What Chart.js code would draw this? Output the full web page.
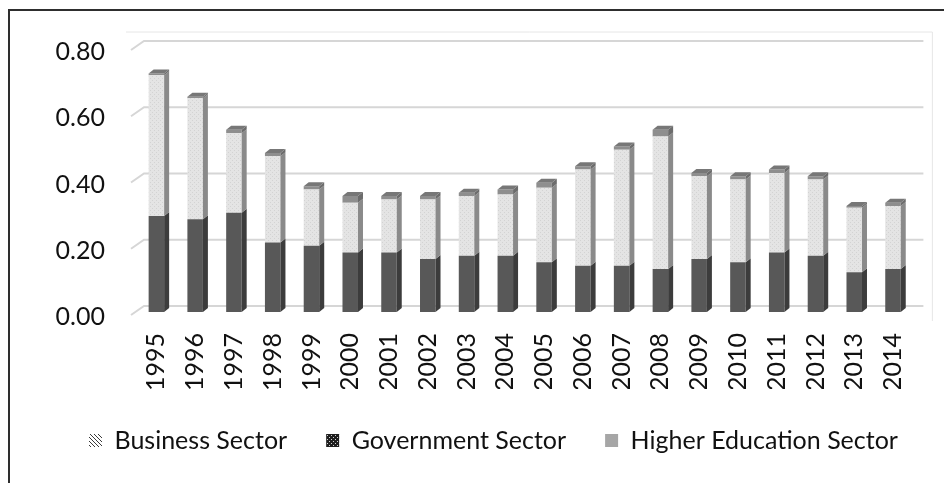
<!DOCTYPE html>
<html>
<head>
<meta charset="utf-8">
<script src="https://cdn.jsdelivr.net/npm/chart.js@4/dist/chart.umd.min.js"></script>
<style>
  html, body { margin: 0; padding: 0; background: #fff; }
  #wrap { position: relative; width: 944px; height: 483px; overflow: hidden; }
  #frame { position: absolute; left: 8px; top: 9px; width: 1000px; height: 600px; border: 2px solid #2e2e2e; }
  #rdChart { position: absolute; left: 0; top: 0; }
</style>
</head>
<body>
<div id="wrap">
  <div id="frame"></div>
  <canvas id="rdChart" width="944" height="483"></canvas>
</div>
<script>
// R&D expenditure by sector, 1995-2014
const years = ["1995", "1996", "1997", "1998", "1999", "2000", "2001", "2002", "2003", "2004",
  "2005", "2006", "2007", "2008", "2009", "2010", "2011", "2012", "2013", "2014"];
const businessSector = [0.29, 0.28, 0.30, 0.21, 0.20, 0.18, 0.18, 0.16, 0.17, 0.17,
  0.15, 0.14, 0.14, 0.13, 0.16, 0.15, 0.18, 0.17, 0.12, 0.13];
const governmentSector = [0.425, 0.365, 0.24, 0.26, 0.17, 0.15, 0.16, 0.18, 0.18, 0.185,
  0.225, 0.29, 0.35, 0.40, 0.25, 0.25, 0.24, 0.23, 0.195, 0.19];
const higherEducationSector = [0.005, 0.005, 0.01, 0.01, 0.01, 0.02, 0.01, 0.01, 0.01, 0.015,
  0.015, 0.01, 0.01, 0.02, 0.01, 0.01, 0.01, 0.01, 0.005, 0.01];
const yTicks = [0, 0.2, 0.4, 0.6, 0.8];

// small tiles used as fills
function makePattern(size, draw) {
  const c = document.createElement("canvas");
  c.width = size; c.height = size;
  draw(c.getContext("2d"));
  return document.createElement("canvas").getContext("2d").createPattern(c, "repeat");
}

const dottedLight = makePattern(4, g => {
  g.fillStyle = "#e4e4e4"; g.fillRect(0, 0, 4, 4);
  g.fillStyle = "#d3d3d3"; g.fillRect(0, 0, 1, 1); g.fillRect(2, 2, 1, 1);
});
const hatch = makePattern(4, g => {
  g.fillStyle = "#ffffff"; g.fillRect(0, 0, 4, 4);
  g.fillStyle = "#3a3a3a";
  for (let i = 0; i < 4; i++) g.fillRect(i, i, 1, 1);
});
const checker = makePattern(4, g => {
  g.fillStyle = "#1e1e1e"; g.fillRect(0, 0, 4, 4);
  g.fillStyle = "#cfcfcf"; g.fillRect(1, 1, 1, 1); g.fillRect(3, 3, 1, 1);
});

const legendFills = [hatch, checker, "#a6a6a6"];
const sideColors = ["#3c3c3c", "#8a8a8a", "#6c6c6c"];
const topColor = "#777777";

const DX = 5, DY = 4;          // bar depth
const WALL_DX = 7, WALL_DY = 6; // back wall offset

// back wall, gridlines, floor lines and the bar sides/tops
const wallPlugin = {
  id: "wall",
  afterLayout(chart) {
    // legend row starts a little right of the y axis
    if (chart.legend) chart.legend.left = 50;
  },
  beforeDatasetsDraw(chart) {
    const { ctx, chartArea: a, scales: { y } } = chart;
    ctx.save();
    ctx.strokeStyle = "#e6e6e6";
    ctx.lineWidth = 1;
    ctx.beginPath();
    ctx.moveTo(a.left - 11, y.getPixelForValue(0.8) - 15);
    ctx.lineTo(a.right + 20, y.getPixelForValue(0.8) - 15);
    ctx.lineTo(a.right + 20, y.getPixelForValue(0) + 9);
    ctx.stroke();

    ctx.strokeStyle = "#d6d6d6";
    ctx.lineWidth = 2;
    yTicks.forEach(v => {
      const py = y.getPixelForValue(v);
      ctx.beginPath();
      ctx.moveTo(a.left - 6, py + 3);
      ctx.lineTo(a.left + WALL_DX, py - WALL_DY);
      ctx.lineTo(a.right + 11, py - WALL_DY);
      ctx.stroke();
    });
    ctx.restore();
  },
  afterDatasetsDraw(chart) {
    const { ctx } = chart;
    const metas = chart.getSortedVisibleDatasetMetas();
    ctx.save();
    metas.forEach((meta, di) => {
      meta.data.forEach(bar => {
        const { x, y, base, width } = bar.getProps(["x", "y", "base", "width"], true);
        const r = x + width / 2, l = x - width / 2;
        ctx.fillStyle = sideColors[di];
        ctx.beginPath();
        ctx.moveTo(r, y);
        ctx.lineTo(r + DX, y - DY);
        ctx.lineTo(r + DX, base - DY);
        ctx.lineTo(r, base);
        ctx.closePath();
        ctx.fill();
        if (di === metas.length - 1) {
          ctx.fillStyle = topColor;
          ctx.beginPath();
          ctx.moveTo(l, y);
          ctx.lineTo(l + DX, y - DY);
          ctx.lineTo(r + DX, y - DY);
          ctx.lineTo(r, y);
          ctx.closePath();
          ctx.fill();
        }
      });
    });
    ctx.restore();
  }
};

const font = { family: "Lato, 'Open Sans', sans-serif", size: 25 };

new Chart(document.getElementById("rdChart"), {
  type: "bar",
  data: {
    labels: years,
    datasets: [
      { label: "Business Sector", data: businessSector, backgroundColor: "#585858" },
      { label: "Government Sector", data: governmentSector, backgroundColor: dottedLight },
      { label: "Higher Education Sector", data: higherEducationSector, backgroundColor: "#8e8e8e" }
    ]
  },
  options: {
    responsive: false,
    animation: false,
    events: [],
    layout: { padding: { left: 50, top: 37, bottom: 20, right: 0 } },
    datasets: { bar: { barPercentage: 0.4, categoryPercentage: 1 } },
    scales: {
      x: {
        stacked: true,
        grid: { display: false, drawTicks: false },
        border: { display: false },
        ticks: { color: "#111", font: font, minRotation: 90, maxRotation: 90, padding: 21, autoSkip: false },
        afterFit: s => { s.height = 77; }
      },
      y: {
        stacked: true,
        min: 0,
        max: 0.8,
        afterBuildTicks: s => { s.ticks = yTicks.map(v => ({ value: v })); },
        grid: { display: false, drawTicks: false },
        border: { display: false },
        ticks: { color: "#111", font: font, padding: 32, labelOffset: 5, callback: v => v.toFixed(2) },
        afterFit: s => { s.width = 87; }
      }
    },
    plugins: {
      tooltip: { enabled: false },
      legend: {
        position: "bottom",
        align: "start",
        labels: {
          color: "#111",
          font: { family: "Lato, 'Open Sans', sans-serif", size: 25 },
          boxWidth: 13,
          boxHeight: 13,
          padding: 39,
          generateLabels: chart => Chart.defaults.plugins.legend.labels.generateLabels(chart).map((item, i) => ({
            ...item, fillStyle: legendFills[i], strokeStyle: "rgba(0,0,0,0)", lineWidth: 0
          }))
        }
      }
    }
  },
  plugins: [wallPlugin]
});
</script>
</body>
</html>
